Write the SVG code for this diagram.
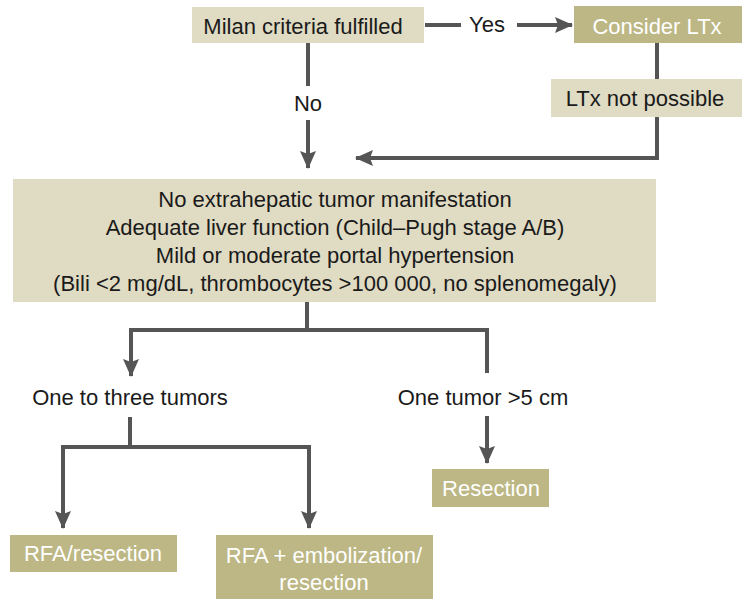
<svg xmlns="http://www.w3.org/2000/svg" width="748" height="606" viewBox="0 0 748 606">
<defs>
<style>
.light{fill:#e0dbc3}
.dark{fill:#bcb784}
text{font-family:"Liberation Sans",Arial,sans-serif;font-size:22px;text-anchor:middle;dominant-baseline:central}
.dt{fill:#ffffff}
.lt{fill:#1a1a1a}
.ln{fill:none;stroke:#555555;stroke-width:4}
</style>
<marker id="ah" markerUnits="userSpaceOnUse" markerWidth="20" markerHeight="16" refX="17" refY="8" orient="auto" viewBox="0 0 18 16">
<path d="M0,0 L18,8 L0,16 L3,8 Z" fill="#555555"/>
</marker>
</defs>
<rect width="748" height="606" fill="#ffffff"/>
<g id="connectors">
<line class="ln" x1="425" y1="25" x2="461" y2="25"/>
<line class="ln" x1="517" y1="25" x2="572" y2="25" marker-end="url(#ah)"/>
<line class="ln" x1="657" y1="43" x2="657" y2="79"/>
<polyline class="ln" points="657,117 657,158 356,158" marker-end="url(#ah)"/>
<line class="ln" x1="308" y1="43" x2="308" y2="86"/>
<line class="ln" x1="308" y1="120" x2="308" y2="168" marker-end="url(#ah)"/>
<line class="ln" x1="307" y1="302" x2="307" y2="330"/>
<polyline class="ln" points="131,330 487,330 487,373"/>
<line class="ln" x1="131" y1="328" x2="131" y2="376" marker-end="url(#ah)"/>
<line class="ln" x1="130" y1="417" x2="130" y2="447"/>
<line class="ln" x1="63" y1="447" x2="309" y2="447"/>
<line class="ln" x1="63" y1="445" x2="63" y2="528" marker-end="url(#ah)"/>
<line class="ln" x1="309" y1="445" x2="309" y2="528" marker-end="url(#ah)"/>
<line class="ln" x1="487" y1="416" x2="487" y2="463" marker-end="url(#ah)"/>
</g>
<g id="milan">
<rect class="light" x="192" y="7" width="232" height="36"/>
<text class="lt" x="303" y="26">Milan criteria fulfilled</text>
</g>
<g id="yes-label"><text class="lt" x="487" y="24">Yes</text></g>
<g id="no-label"><text class="lt" x="308" y="103">No</text></g>
<g id="consider">
<rect class="dark" x="574" y="6" width="168" height="37"/>
<text class="dt" x="657" y="26">Consider LTx</text>
</g>
<g id="ltx-not">
<rect class="light" x="551" y="79" width="191" height="38"/>
<text class="lt" x="645" y="98">LTx not possible</text>
</g>
<g id="criteria">
<rect class="light" x="13" y="179" width="643" height="123"/>
<text class="lt" x="335" y="199">No extrahepatic tumor manifestation</text>
<text class="lt" x="335" y="227">Adequate liver function (Child–Pugh stage A/B)</text>
<text class="lt" x="335" y="255">Mild or moderate portal hypertension</text>
<text class="lt" x="335" y="283">(Bili &lt;2 mg/dL, thrombocytes &gt;100 000, no splenomegaly)</text>
</g>
<g id="one-to-three"><text class="lt" x="130" y="397">One to three tumors</text></g>
<g id="one-tumor"><text class="lt" x="483" y="397">One tumor &gt;5 cm</text></g>
<g id="resection">
<rect class="dark" x="432" y="469" width="117" height="38"/>
<text class="dt" x="491" y="488">Resection</text>
</g>
<g id="rfa-resection">
<rect class="dark" x="10" y="535" width="167" height="37"/>
<text class="dt" x="93" y="553">RFA/resection</text>
</g>
<g id="rfa-embo">
<rect class="dark" x="216" y="535" width="217" height="64"/>
<text class="dt" x="324" y="555">RFA + embolization/</text>
<text class="dt" x="324" y="582">resection</text>
</g>
</svg>
